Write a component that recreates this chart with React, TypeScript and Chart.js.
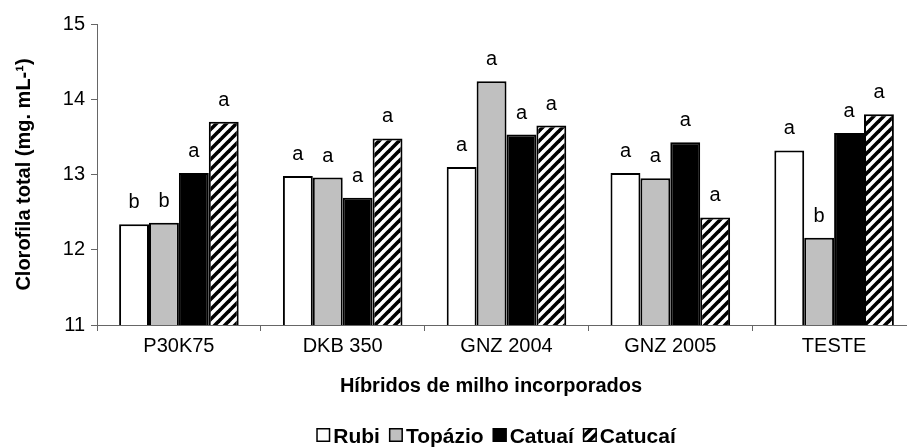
import { useEffect, useRef } from "react";
import { Chart, registerables } from "chart.js";

Chart.register(...registerables);

const categories = ["P30K75", "DKB 350", "GNZ 2004", "GNZ 2005", "TESTE"];
const seriesNames = ["Rubi", "Topázio", "Catuaí", "Catucaí"];
const rubi = [12.34, 12.98, 13.1, 13.02, 13.32];
const topazio = [12.36, 12.96, 14.24, 12.95, 12.16];
const catuai = [13.02, 12.69, 13.53, 13.43, 13.55];
const catucai = [13.7, 13.48, 13.65, 12.43, 13.8];
const rubiLetters = ["b", "a", "a", "a", "a"];
const topazioLetters = ["b", "a", "a", "a", "b"];
const catuaiLetters = ["a", "a", "a", "a", "a"];
const catucaiLetters = ["a", "a", "a", "a", "a"];
const yTicks = [11, 12, 13, 14, 15];
const yTitle = "Clorofila total (mg. mL-¹)";
const xTitle = "Híbridos de milho incorporados";

const FONT = '"Liberation Sans", Arial, Helvetica, sans-serif';
const AXIS = "#666666";

function makeHatch(ctx: CanvasRenderingContext2D) {
  const s = 10;
  const c = document.createElement("canvas");
  c.width = s;
  c.height = s;
  const g = c.getContext("2d")!;
  g.fillStyle = "#ffffff";
  g.fillRect(0, 0, s, s);
  g.strokeStyle = "#000000";
  g.lineWidth = 3.6;
  for (const k of [-s, 0, s]) {
    g.beginPath();
    g.moveTo(k - 1, s + 1);
    g.lineTo(k + s + 1, -1);
    g.stroke();
  }
  return ctx.createPattern(c, "repeat")!;
}

export default function App() {
  const ref = useRef<HTMLCanvasElement | null>(null);

  useEffect(() => {
    const canvas = ref.current!;
    const ctx = canvas.getContext("2d")!;
    const hatch = makeHatch(ctx);
    const letters = [rubiLetters, topazioLetters, catuaiLetters, catucaiLetters];
    const fills: any[] = ["#ffffff", "#c0c0c0", "#000000", hatch];
    const values = [rubi, topazio, catuai, catucai];

    const annot = {
      id: "annot",
      afterDatasetsDraw(chart: any) {
        const c: CanvasRenderingContext2D = chart.ctx;
        c.save();
        c.fillStyle = "#000";
        c.textAlign = "center";
        c.textBaseline = "alphabetic";
        c.font = `20px ${FONT}`;
        chart.data.datasets.forEach((_ds: any, i: number) => {
          const meta = chart.getDatasetMeta(i);
          meta.data.forEach((el: any, j: number) => {
            c.fillText(letters[i][j], el.x, el.y - 16);
          });
        });
        // x-axis title
        c.font = `bold 20px ${FONT}`;
        c.fillText(xTitle, 491, 392);
        // legend
        c.font = `bold 21px ${FONT}`;
        c.textAlign = "left";
        const box = 14;
        const tgap = 3;
        const igap = 9;
        const widths = seriesNames.map((n) => c.measureText(n).width);
        const total =
          widths.reduce((a, b) => a + b, 0) + seriesNames.length * (box + tgap) + (seriesNames.length - 1) * igap;
        let x = 496 - total / 2;
        const by = 428;
        seriesNames.forEach((n, i) => {
          c.fillStyle = fills[i];
          c.fillRect(x, by, box, box);
          c.strokeStyle = "#000";
          c.lineWidth = 1.5;
          c.strokeRect(x + 0.75, by + 0.75, box - 1.5, box - 1.5);
          c.fillStyle = "#000";
          c.fillText(n, x + box + tgap, 443);
          x += box + tgap + widths[i] + igap;
        });
        c.restore();
      },
    };

    const chart = new Chart(ctx, {
      type: "bar",
      data: {
        labels: categories,
        datasets: seriesNames.map((n, i) => ({
          label: n,
          data: values[i],
          backgroundColor: fills[i],
          borderColor: "#000000",
          borderWidth: 2,
          borderSkipped: false,
          categoryPercentage: 0.73,
          barPercentage: 1,
        })),
      },
      options: {
        responsive: false,
        animation: false,
        devicePixelRatio: 1,
        layout: { padding: { top: 24, left: 0, right: 4, bottom: 0 } },
        plugins: {
          legend: { display: false },
          tooltip: { enabled: false },
        },
        scales: {
          x: {
            afterFit: (s: any) => {
              s.height = 122;
            },
            grid: {
              display: true,
              drawOnChartArea: false,
              drawTicks: true,
              tickLength: 6,
              color: AXIS,
              offset: true,
            },
            border: { display: true, color: AXIS, width: 1 },
            ticks: {
              color: "#000",
              font: { family: FONT, size: 20 },
              padding: 3,
              maxRotation: 0,
            },
          },
          y: {
            min: 11,
            max: 15,
            afterFit: (s: any) => {
              s.width = 97;
            },
            afterBuildTicks: (s: any) => {
              s.ticks = yTicks.map((v) => ({ value: v }));
            },
            grid: {
              display: true,
              drawOnChartArea: false,
              drawTicks: true,
              tickLength: 6,
              color: AXIS,
            },
            border: { display: true, color: AXIS, width: 1 },
            ticks: {
              color: "#000",
              font: { family: FONT, size: 20 },
              padding: 6,
            },
            title: {
              display: true,
              text: yTitle,
              color: "#000",
              font: { family: FONT, size: 20, weight: "bold" },
              padding: { top: 12, bottom: 0 },
            },
          },
        },
      },
      plugins: [annot],
    } as any);

    return () => chart.destroy();
  }, []);

  return (
    <div
      style={{
        position: "fixed",
        left: 0,
        top: 0,
        width: "100vw",
        height: "100vh",
        overflow: "hidden",
        background: "#fff",
      }}
    >
      <canvas ref={ref} width={920} height={447} style={{ display: "block", width: 920, height: 447 }} />
    </div>
  );
}
